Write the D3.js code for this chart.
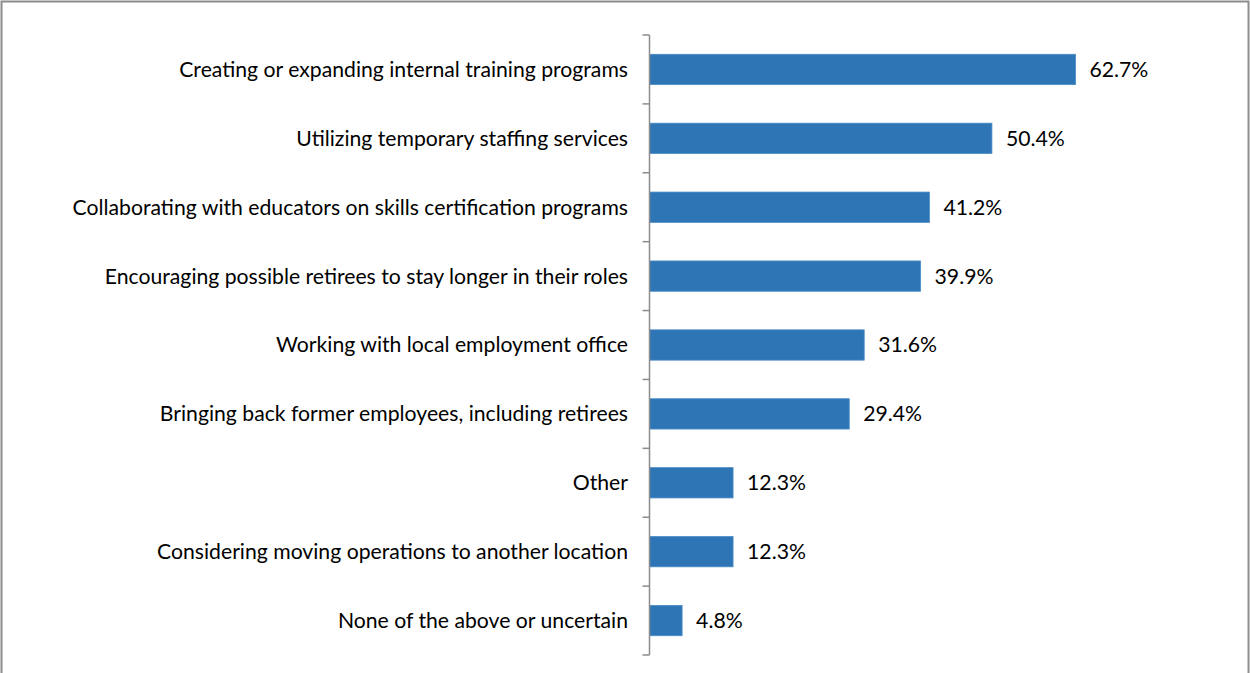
<!DOCTYPE html>
<html>
<head>
<meta charset="utf-8">
<script src="https://cdn.jsdelivr.net/npm/d3@7"></script>
<style>
  html, body { margin: 0; padding: 0; background: #fff; }
  svg { display: block; }
</style>
</head>
<body>
<svg id="chart" width="1250" height="673"></svg>
<script>
const categories = [
  "Creating or expanding internal training programs",
  "Utilizing temporary staffing services",
  "Collaborating with educators on skills certification programs",
  "Encouraging possible retirees to stay longer in their roles",
  "Working with local employment office",
  "Bringing back former employees, including retirees",
  "Other",
  "Considering moving operations to another location",
  "None of the above or uncertain"
];
const values = [62.7, 50.4, 41.2, 39.9, 31.6, 29.4, 12.3, 12.3, 4.8];

const W = 1250, H = 673;
const svg = d3.select("#chart");
const font = "Lato, 'Open Sans', sans-serif";
const fontSize = 21.2;

// outer frame
svg.append("rect")
  .attr("x", 1.5).attr("y", 1.5)
  .attr("width", W - 3).attr("height", H + 5)
  .attr("fill", "none").attr("stroke", "#8c8c8c").attr("stroke-width", 2);

const axisX = 649.5;
const plotTop = 35, plotBottom = 655;

const y = d3.scaleBand().domain(categories).range([plotTop, plotBottom]).paddingInner(0.56).paddingOuter(0.28);
const x = d3.scaleLinear().domain([0, 100]).range([axisX, axisX + 679.4]);

// bars
svg.append("g").selectAll("rect").data(values).join("rect")
  .attr("x", x(0))
  .attr("y", (d, i) => y(categories[i]))
  .attr("width", d => x(d) - x(0))
  .attr("height", y.bandwidth())
  .attr("fill", "#2E75B6")
  .attr("stroke", "#4a8cc8").attr("stroke-width", 0.8);

// value labels
svg.append("g").selectAll("text").data(values).join("text")
  .attr("x", d => x(d) + 14)
  .attr("y", (d, i) => y(categories[i]) + y.bandwidth() / 2)
  .attr("dy", "0.35em")
  .attr("font-family", font).attr("font-size", fontSize).attr("fill", "#000")
  .text(d => d.toFixed(1) + "%");

// category axis with ticks between categories
const axisG = svg.append("g");
axisG.append("line")
  .attr("x1", axisX).attr("x2", axisX)
  .attr("y1", plotTop).attr("y2", plotBottom)
  .attr("stroke", "#8c8c8c").attr("stroke-width", 1.5);
const step = (plotBottom - plotTop) / categories.length;
const tickYs = d3.range(categories.length + 1).map(i => plotTop + i * step);
axisG.selectAll("line.tick").data(tickYs).join("line")
  .attr("class", "tick")
  .attr("x1", axisX - 7).attr("x2", axisX)
  .attr("y1", d => d).attr("y2", d => d)
  .attr("stroke", "#8c8c8c").attr("stroke-width", 1.5);

axisG.selectAll("text").data(categories).join("text")
  .attr("x", 628)
  .attr("y", d => y(d) + y.bandwidth() / 2)
  .attr("dy", "0.35em")
  .attr("text-anchor", "end")
  .attr("font-family", font).attr("font-size", fontSize).attr("fill", "#000")
  .text(d => d);
</script>
</body>
</html>
